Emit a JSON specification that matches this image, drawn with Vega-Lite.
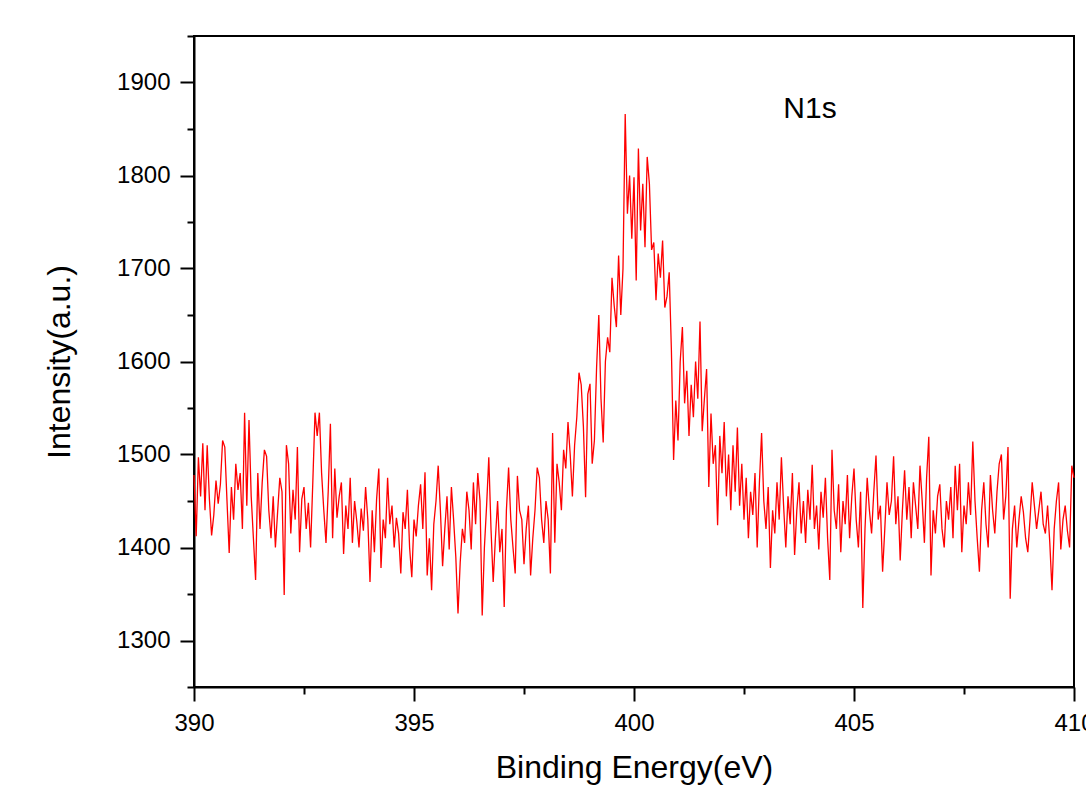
{
  "$schema": "https://vega.github.io/schema/vega-lite/v6.json",
  "width": 880,
  "height": 651,
  "autosize": "none",
  "padding": {"left": 194, "top": 36, "right": 12, "bottom": 101},
  "background": "white",
  "config": {
    "view": {"stroke": "black", "strokeWidth": 2},
    "font": "Liberation Sans"
  },
  "datasets": {
    "spectrum": [
{"x":390.00,"y":1478},{"x":390.05,"y":1412},{"x":390.10,"y":1497},{"x":390.15,"y":1455},{"x":390.20,"y":1512},{"x":390.25,"y":1440},{"x":390.30,"y":1510},{"x":390.35,"y":1452},{"x":390.40,"y":1413},{"x":390.45,"y":1435},
{"x":390.50,"y":1472},{"x":390.55,"y":1447},{"x":390.60,"y":1468},{"x":390.65,"y":1515},{"x":390.70,"y":1508},{"x":390.75,"y":1450},{"x":390.80,"y":1394},{"x":390.85,"y":1465},{"x":390.90,"y":1430},{"x":390.95,"y":1490},
{"x":391.00,"y":1462},{"x":391.05,"y":1480},{"x":391.10,"y":1420},{"x":391.15,"y":1545},{"x":391.20,"y":1445},{"x":391.25,"y":1537},{"x":391.30,"y":1455},{"x":391.35,"y":1410},{"x":391.40,"y":1365},{"x":391.45,"y":1480},
{"x":391.50,"y":1420},{"x":391.55,"y":1470},{"x":391.60,"y":1505},{"x":391.65,"y":1498},{"x":391.70,"y":1440},{"x":391.75,"y":1410},{"x":391.80,"y":1455},{"x":391.85,"y":1400},{"x":391.90,"y":1438},{"x":391.95,"y":1475},
{"x":392.00,"y":1460},{"x":392.05,"y":1349},{"x":392.10,"y":1510},{"x":392.15,"y":1490},{"x":392.20,"y":1415},{"x":392.25,"y":1462},{"x":392.30,"y":1430},{"x":392.35,"y":1508},{"x":392.40,"y":1395},{"x":392.45,"y":1452},
{"x":392.50,"y":1465},{"x":392.55,"y":1420},{"x":392.60,"y":1448},{"x":392.65,"y":1400},{"x":392.70,"y":1470},{"x":392.75,"y":1545},{"x":392.80,"y":1520},{"x":392.85,"y":1545},{"x":392.90,"y":1480},{"x":392.95,"y":1440},
{"x":393.00,"y":1405},{"x":393.05,"y":1460},{"x":393.10,"y":1533},{"x":393.15,"y":1410},{"x":393.20,"y":1485},{"x":393.25,"y":1432},{"x":393.30,"y":1455},{"x":393.35,"y":1470},{"x":393.40,"y":1393},{"x":393.45,"y":1445},
{"x":393.50,"y":1420},{"x":393.55,"y":1475},{"x":393.60,"y":1405},{"x":393.65,"y":1450},{"x":393.70,"y":1428},{"x":393.75,"y":1400},{"x":393.80,"y":1442},{"x":393.85,"y":1418},{"x":393.90,"y":1465},{"x":393.95,"y":1430},
{"x":394.00,"y":1363},{"x":394.05,"y":1440},{"x":394.10,"y":1395},{"x":394.15,"y":1452},{"x":394.20,"y":1485},{"x":394.25,"y":1378},{"x":394.30,"y":1430},{"x":394.35,"y":1410},{"x":394.40,"y":1475},{"x":394.45,"y":1425},
{"x":394.50,"y":1445},{"x":394.55,"y":1400},{"x":394.60,"y":1432},{"x":394.65,"y":1415},{"x":394.70,"y":1372},{"x":394.75,"y":1438},{"x":394.80,"y":1420},{"x":394.85,"y":1462},{"x":394.90,"y":1400},{"x":394.95,"y":1368},
{"x":395.00,"y":1430},{"x":395.05,"y":1412},{"x":395.10,"y":1445},{"x":395.15,"y":1468},{"x":395.20,"y":1420},{"x":395.25,"y":1481},{"x":395.30,"y":1370},{"x":395.35,"y":1410},{"x":395.40,"y":1354},{"x":395.45,"y":1425},
{"x":395.50,"y":1450},{"x":395.55,"y":1488},{"x":395.60,"y":1440},{"x":395.65,"y":1380},{"x":395.70,"y":1420},{"x":395.75,"y":1455},{"x":395.80,"y":1398},{"x":395.85,"y":1465},{"x":395.90,"y":1430},{"x":395.95,"y":1390},
{"x":396.00,"y":1329},{"x":396.05,"y":1384},{"x":396.10,"y":1420},{"x":396.15,"y":1405},{"x":396.20,"y":1460},{"x":396.25,"y":1440},{"x":396.30,"y":1398},{"x":396.35,"y":1470},{"x":396.40,"y":1425},{"x":396.45,"y":1480},
{"x":396.50,"y":1450},{"x":396.55,"y":1327},{"x":396.60,"y":1400},{"x":396.65,"y":1445},{"x":396.70,"y":1497},{"x":396.75,"y":1420},{"x":396.80,"y":1363},{"x":396.85,"y":1410},{"x":396.90,"y":1450},{"x":396.95,"y":1395},
{"x":397.00,"y":1420},{"x":397.05,"y":1336},{"x":397.10,"y":1440},{"x":397.15,"y":1486},{"x":397.20,"y":1430},{"x":397.25,"y":1400},{"x":397.30,"y":1372},{"x":397.35,"y":1477},{"x":397.40,"y":1440},{"x":397.45,"y":1430},
{"x":397.50,"y":1382},{"x":397.55,"y":1420},{"x":397.60,"y":1445},{"x":397.65,"y":1370},{"x":397.70,"y":1410},{"x":397.75,"y":1440},{"x":397.80,"y":1486},{"x":397.85,"y":1475},{"x":397.90,"y":1430},{"x":397.95,"y":1405},
{"x":398.00,"y":1450},{"x":398.05,"y":1430},{"x":398.10,"y":1372},{"x":398.15,"y":1523},{"x":398.20,"y":1405},{"x":398.25,"y":1490},{"x":398.30,"y":1470},{"x":398.35,"y":1440},{"x":398.40,"y":1505},{"x":398.45,"y":1485},
{"x":398.50,"y":1535},{"x":398.55,"y":1500},{"x":398.60,"y":1455},{"x":398.65,"y":1510},{"x":398.70,"y":1540},{"x":398.75,"y":1588},{"x":398.80,"y":1575},{"x":398.85,"y":1530},{"x":398.90,"y":1454},{"x":398.95,"y":1565},
{"x":399.00,"y":1576},{"x":399.05,"y":1490},{"x":399.10,"y":1515},{"x":399.15,"y":1594},{"x":399.20,"y":1650},{"x":399.25,"y":1560},{"x":399.30,"y":1513},{"x":399.35,"y":1600},{"x":399.40,"y":1626},{"x":399.45,"y":1610},
{"x":399.50,"y":1690},{"x":399.55,"y":1660},{"x":399.60,"y":1637},{"x":399.65,"y":1714},{"x":399.70,"y":1650},{"x":399.75,"y":1700},{"x":399.80,"y":1866},{"x":399.85,"y":1759},{"x":399.90,"y":1800},{"x":399.95,"y":1732},
{"x":400.00,"y":1798},{"x":400.05,"y":1687},{"x":400.10,"y":1829},{"x":400.15,"y":1741},{"x":400.20,"y":1791},{"x":400.25,"y":1723},{"x":400.30,"y":1820},{"x":400.35,"y":1791},{"x":400.40,"y":1720},{"x":400.45,"y":1728},
{"x":400.50,"y":1666},{"x":400.55,"y":1716},{"x":400.60,"y":1690},{"x":400.65,"y":1730},{"x":400.70,"y":1658},{"x":400.75,"y":1670},{"x":400.80,"y":1696},{"x":400.85,"y":1612},{"x":400.90,"y":1494},{"x":400.95,"y":1558},
{"x":401.00,"y":1515},{"x":401.05,"y":1600},{"x":401.10,"y":1637},{"x":401.15,"y":1555},{"x":401.20,"y":1590},{"x":401.25,"y":1520},{"x":401.30,"y":1575},{"x":401.35,"y":1540},{"x":401.40,"y":1600},{"x":401.45,"y":1560},
{"x":401.50,"y":1643},{"x":401.55,"y":1525},{"x":401.60,"y":1560},{"x":401.65,"y":1592},{"x":401.70,"y":1465},{"x":401.75,"y":1544},{"x":401.80,"y":1490},{"x":401.85,"y":1510},{"x":401.90,"y":1424},{"x":401.95,"y":1520},
{"x":402.00,"y":1480},{"x":402.05,"y":1535},{"x":402.10,"y":1455},{"x":402.15,"y":1500},{"x":402.20,"y":1440},{"x":402.25,"y":1510},{"x":402.30,"y":1460},{"x":402.35,"y":1529},{"x":402.40,"y":1445},{"x":402.45,"y":1490},
{"x":402.50,"y":1430},{"x":402.55,"y":1475},{"x":402.60,"y":1410},{"x":402.65,"y":1460},{"x":402.70,"y":1435},{"x":402.75,"y":1480},{"x":402.80,"y":1400},{"x":402.85,"y":1470},{"x":402.90,"y":1523},{"x":402.95,"y":1450},
{"x":403.00,"y":1420},{"x":403.05,"y":1465},{"x":403.10,"y":1378},{"x":403.15,"y":1440},{"x":403.20,"y":1415},{"x":403.25,"y":1470},{"x":403.30,"y":1430},{"x":403.35,"y":1497},{"x":403.40,"y":1445},{"x":403.45,"y":1400},
{"x":403.50,"y":1455},{"x":403.55,"y":1425},{"x":403.60,"y":1480},{"x":403.65,"y":1392},{"x":403.70,"y":1440},{"x":403.75,"y":1470},{"x":403.80,"y":1415},{"x":403.85,"y":1450},{"x":403.90,"y":1405},{"x":403.95,"y":1462},
{"x":404.00,"y":1430},{"x":404.05,"y":1489},{"x":404.10,"y":1420},{"x":404.15,"y":1445},{"x":404.20,"y":1398},{"x":404.25,"y":1460},{"x":404.30,"y":1432},{"x":404.35,"y":1475},{"x":404.40,"y":1410},{"x":404.45,"y":1365},
{"x":404.50,"y":1505},{"x":404.55,"y":1440},{"x":404.60,"y":1420},{"x":404.65,"y":1468},{"x":404.70,"y":1395},{"x":404.75,"y":1450},{"x":404.80,"y":1425},{"x":404.85,"y":1478},{"x":404.90,"y":1410},{"x":404.95,"y":1455},
{"x":405.00,"y":1485},{"x":405.05,"y":1430},{"x":405.10,"y":1400},{"x":405.15,"y":1460},{"x":405.20,"y":1335},{"x":405.25,"y":1420},{"x":405.30,"y":1475},{"x":405.35,"y":1440},{"x":405.40,"y":1415},{"x":405.45,"y":1460},
{"x":405.50,"y":1499},{"x":405.55,"y":1430},{"x":405.60,"y":1445},{"x":405.65,"y":1374},{"x":405.70,"y":1420},{"x":405.75,"y":1470},{"x":405.80,"y":1435},{"x":405.85,"y":1450},{"x":405.90,"y":1498},{"x":405.95,"y":1425},
{"x":406.00,"y":1455},{"x":406.05,"y":1386},{"x":406.10,"y":1440},{"x":406.15,"y":1483},{"x":406.20,"y":1430},{"x":406.25,"y":1465},{"x":406.30,"y":1410},{"x":406.35,"y":1470},{"x":406.40,"y":1445},{"x":406.45,"y":1420},
{"x":406.50,"y":1488},{"x":406.55,"y":1450},{"x":406.60,"y":1405},{"x":406.65,"y":1475},{"x":406.70,"y":1519},{"x":406.75,"y":1370},{"x":406.80,"y":1440},{"x":406.85,"y":1415},{"x":406.90,"y":1455},{"x":406.95,"y":1468},
{"x":407.00,"y":1420},{"x":407.05,"y":1400},{"x":407.10,"y":1450},{"x":407.15,"y":1430},{"x":407.20,"y":1465},{"x":407.25,"y":1410},{"x":407.30,"y":1488},{"x":407.35,"y":1440},{"x":407.40,"y":1490},{"x":407.45,"y":1395},
{"x":407.50,"y":1445},{"x":407.55,"y":1425},{"x":407.60,"y":1470},{"x":407.65,"y":1435},{"x":407.70,"y":1514},{"x":407.75,"y":1450},{"x":407.80,"y":1410},{"x":407.85,"y":1374},{"x":407.90,"y":1440},{"x":407.95,"y":1470},
{"x":408.00,"y":1425},{"x":408.05,"y":1400},{"x":408.10,"y":1478},{"x":408.15,"y":1440},{"x":408.20,"y":1415},{"x":408.25,"y":1460},{"x":408.30,"y":1490},{"x":408.35,"y":1500},{"x":408.40,"y":1430},{"x":408.45,"y":1455},
{"x":408.50,"y":1508},{"x":408.55,"y":1345},{"x":408.60,"y":1420},{"x":408.65,"y":1445},{"x":408.70,"y":1400},{"x":408.75,"y":1430},{"x":408.80,"y":1455},{"x":408.85,"y":1438},{"x":408.90,"y":1410},{"x":408.95,"y":1395},
{"x":409.00,"y":1430},{"x":409.05,"y":1470},{"x":409.10,"y":1445},{"x":409.15,"y":1420},{"x":409.20,"y":1440},{"x":409.25,"y":1460},{"x":409.30,"y":1425},{"x":409.35,"y":1415},{"x":409.40,"y":1445},{"x":409.45,"y":1405},
{"x":409.50,"y":1354},{"x":409.55,"y":1420},{"x":409.60,"y":1450},{"x":409.65,"y":1470},{"x":409.70,"y":1398},{"x":409.75,"y":1430},{"x":409.80,"y":1445},{"x":409.85,"y":1418},{"x":409.90,"y":1400},{"x":409.95,"y":1488},
{"x":410.00,"y":1475}
    ],
    "annotation": [{"x": 404.0, "y": 1872, "label": "N1s"}]
  },
  "layer": [
    {
      "data": {"name": "spectrum"},
      "mark": {"type": "line", "color": "#ff0000", "strokeWidth": 1.3, "interpolate": "linear"},
      "encoding": {
        "x": {
          "field": "x", "type": "quantitative",
          "scale": {"domain": [390, 410], "nice": false, "zero": false},
          "axis": {
            "title": "Binding Energy(eV)",
            "values": [390, 392.5, 395, 397.5, 400, 402.5, 405, 407.5, 410],
            "format": "d",
            "labelExpr": "datum.value % 5 === 0 ? datum.label : ''",
            "labelFlush": false,
            "labelOverlap": false,
            "grid": false,
            "domainColor": "black", "domainWidth": 2,
            "tickColor": "black", "tickWidth": 2,
            "tickSize": {"condition": {"test": "datum.value % 5 === 0", "value": 14}, "value": 7},
            "labelPadding": 10,
            "labelFont": "Liberation Sans", "labelFontSize": 24, "labelColor": "black",
            "titleFont": "Liberation Sans", "titleFontSize": 32, "titleFontWeight": "normal", "titleColor": "black",
            "titlePadding": 17
          }
        },
        "y": {
          "field": "y", "type": "quantitative",
          "scale": {"domain": [1250, 1950], "nice": false, "zero": false},
          "axis": {
            "title": "Intensity(a.u.)",
            "values": [1250, 1300, 1350, 1400, 1450, 1500, 1550, 1600, 1650, 1700, 1750, 1800, 1850, 1900, 1950],
            "format": "d",
            "labelExpr": "datum.value % 100 === 0 ? datum.label : ''",
            "labelOverlap": false,
            "grid": false,
            "domainColor": "black", "domainWidth": 2,
            "tickColor": "black", "tickWidth": 2,
            "tickSize": {"condition": {"test": "datum.value % 100 === 0", "value": 14}, "value": 7},
            "labelPadding": 10,
            "labelFont": "Liberation Sans", "labelFontSize": 24, "labelColor": "black",
            "titleFont": "Liberation Sans", "titleFontSize": 32, "titleFontWeight": "normal", "titleColor": "black",
            "titlePadding": 40
          }
        }
      }
    },
    {
      "data": {"name": "annotation"},
      "mark": {"type": "text", "font": "Liberation Sans", "fontSize": 30, "color": "black", "align": "center", "baseline": "middle"},
      "encoding": {
        "x": {"field": "x", "type": "quantitative"},
        "y": {"field": "y", "type": "quantitative"},
        "text": {"field": "label"}
      }
    }
  ]
}
